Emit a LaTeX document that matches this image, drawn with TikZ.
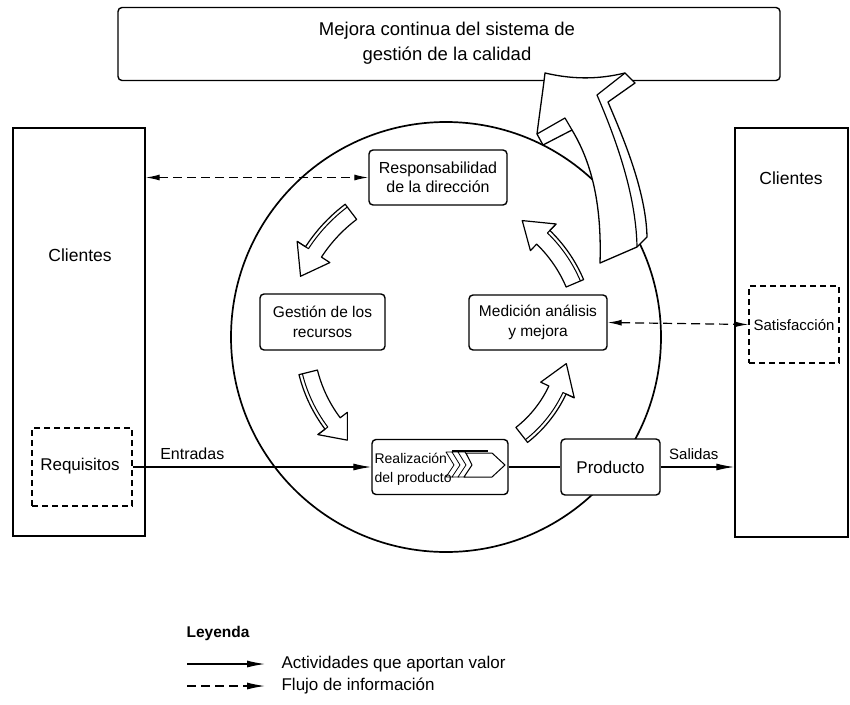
\documentclass[tikz,border=0pt]{standalone}
\usepackage{fontspec}
\setmainfont{Liberation Sans}
\usetikzlibrary{arrows.meta}
% curved block arrow running round the centre of the process ring
% #1 radius, #2 tail angle, #3 head base angle, #4 tip angle, #5 half shaft width, #6 half head width
\newcommand\ringarrow[6]{%
  \begin{scope}[shift={(446,338)}]
    \draw[fill=white, line width=1.2pt, line join=round]
      plot[domain=#2:#3, samples=16] (\x:{#1+#5})
      -- (#3:{#1+#6}) -- (#4:#1) -- (#3:{#1-#6})
      -- plot[domain=#3:#2, samples=16] (\x:{#1-#5}) -- cycle;
    \draw[line width=1pt, line join=round]
      plot[domain=#2:#3, samples=16] (\x:{#1+#5-3.5}) -- (#3:{#1+#6});
  \end{scope}}
\begin{document}
\begin{tikzpicture}[x=1pt, y=-1pt, line width=1.2pt,
  box/.style={draw, rounded corners=4pt, line width=1.4pt, fill=white, inner sep=0pt},
  plain/.style={draw, line width=1.4pt, fill=white, inner sep=0pt},
  dbox/.style={draw, dash pattern=on 6pt off 4pt, line width=1.2pt, inner sep=0pt},
  txt/.style={align=center, inner sep=0pt},
  flow/.style={-{Latex[length=18pt,width=7pt]}, line width=1.2pt},
  info/.style={{Latex[length=14pt,width=6pt]}-{Latex[length=14pt,width=6pt]}, dash pattern=on 9pt off 5pt, line width=1.2pt},
  ]
\useasboundingbox (0,0) rectangle (850,704);

% top box
\node[box, minimum width=662pt, minimum height=73pt] (mejora) at (449,44) {};
\node[txt, font=\fontsize{18.5}{25}\selectfont] (mejoratxt) at (447,43)
  {Mejora continua del sistema de\\gestión de la calidad};

% customers on both sides
\node[plain, minimum width=132pt, minimum height=408pt] (cliL) at (79,332) {};
\node[txt, font=\fontsize{17.5}{20}\selectfont] (cliLtxt) at (80,255) {Clientes};
\node[plain, minimum width=113pt, minimum height=409pt] (cliR) at (791.5,332.5) {};
\node[txt, font=\fontsize{17.5}{20}\selectfont] (cliRtxt) at (791,178) {Clientes};

\node[dbox, minimum width=100pt, minimum height=78pt] (req) at (82,467) {};
\node[txt, font=\fontsize{17}{20}\selectfont] (reqtxt) at (80,466) {Requisitos};
\node[dbox, minimum width=90pt, minimum height=77pt] (sat) at (794,324.5) {};
\node[txt, font=\fontsize{15}{18}\selectfont] (sattxt) at (794,325) {Satisfacción};

% process ring
\draw[line width=1.7pt] (446,337) circle [radius=215];

\node[box, minimum width=138pt, minimum height=55pt, txt, font=\fontsize{16}{19}\selectfont] (resp) at (438,177.5)
  {Responsabilidad\\de la dirección};
\node[box, minimum width=125pt, minimum height=56pt, txt, font=\fontsize{15.5}{20}\selectfont] (rec) at (322.5,322)
  {Gestión de los\\recursos};
\node[box, minimum width=138pt, minimum height=55pt, txt, font=\fontsize{15.5}{20}\selectfont] (med) at (538,322.5)
  {Medición análisis\\y mejora};
\node[box, minimum width=136pt, minimum height=55pt] (real) at (440,467) {};
\node[box, minimum width=99pt, minimum height=56pt, txt, font=\fontsize{17}{20}\selectfont] (prod) at (610.5,467) {Producto};

% product realisation symbol
\foreach \d in {0,6,12}
  \draw[fill=white, line width=0.8pt, line join=round]
    (446+\d,452) -- (453+\d,452) -- (461+\d,465) -- (453+\d,477) -- (446+\d,477) -- (454+\d,465) -- cycle;
\draw[fill=white, line width=1pt, line join=round]
  (466,453) -- (492,453) -- (505,465) -- (492,477) -- (464,477) -- (472,465) -- cycle;
\draw[line width=2.4pt] (452,451) -- (488,451);
\node[align=left, anchor=west, inner sep=0pt, font=\fontsize{14}{18.5}\selectfont] (realtxt) at (374,469.5)
  {Realización\\del producto};

% cycle arrows
\ringarrow{158}{-127}{-147}{-157}{9.5}{19.5}
\ringarrow{142}{166}{143}{134}{9.5}{18.5}
\ringarrow{123}{52}{25}{12}{9.5}{18.5}
\ringarrow{140}{-23}{-46}{-57}{9.5}{18.5}

% continual improvement arrow
\draw[fill=white, line width=1.3pt, line join=round]
  (545,73) .. controls (575,80) and (600,79) .. (625,73) -- (635,83) -- (608,102)
  .. controls (622,135) and (646,190) .. (647,237) -- (637,247) -- (600,263)
  .. controls (602,200) and (590,160) .. (572,130) -- (543,145) -- (537,134)
  .. controls (540,110) and (543,90) .. (545,73) -- cycle;
\draw[line width=1.2pt, line join=round]
  (625,73) -- (597,95) .. controls (612,130) and (636,190) .. (637,247);
\draw[line width=1.2pt, line join=round] (537,134) -- (565,118) -- (572,130);

% connectors
\draw[info] (cliL.east |- resp.west) -- (resp.west);
\draw[info] (med.east) -- (sat.west);
\draw[flow] (req.east) -- node[pos=0.25, above=3pt, font=\fontsize{16}{18}\selectfont] (entr) {Entradas} (real.west);
\draw[line width=1.2pt] (real.east) -- (prod.west);
\draw[flow] (prod.east) -- node[pos=0.45, above=3pt, font=\fontsize{15}{18}\selectfont] (sal) {Salidas} (cliR.west |- prod.east);

% legend
\node[anchor=west, inner sep=0pt, font=\bfseries\fontsize{15.5}{18}\selectfont] (ley) at (186,633) {Leyenda};
\coordinate (la1) at (187,664);
\coordinate (lb1) at (265,664);
\coordinate (la2) at (187,686);
\coordinate (lb2) at (265,686);
\draw[flow] (la1) -- (lb1);
\draw[flow, dash pattern=on 9pt off 5pt] (la2) -- (lb2);
\node[anchor=west, inner sep=0pt, font=\fontsize{17}{20}\selectfont] (ley1) at (281,664) {Actividades que aportan valor};
\node[anchor=west, inner sep=0pt, font=\fontsize{17}{20}\selectfont] (ley2) at (281,686) {Flujo de información};
\end{tikzpicture}
\end{document}
